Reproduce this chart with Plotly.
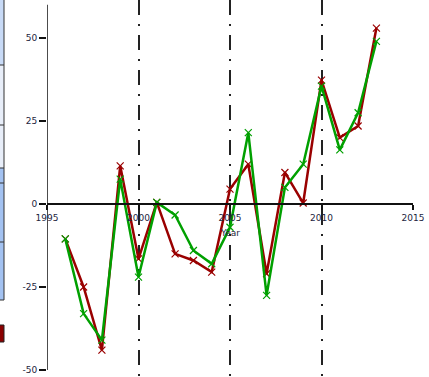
import plotly.graph_objects as go

# Yearly anomaly values for the two series
years = list(range(1996, 2014))
series_red = [-10.5, -25, -44, 11.5, -16.5, 0.5, -15, -17, -20.5, 4.5, 12, -21, 9.5, 0.3, 37.3, 20, 23.5, 53]
series_green = [-10.5, -33, -41, 7.5, -22, 0.5, -3.3, -14, -18, -7, 21.5, -27.5, 5, 12, 35.5, 16.3, 27.5, 49]

x_ticks = [1995, 2000, 2005, 2010, 2015]
x_ticktext = ["1995", "2000", "2005", "2010", "2015"]
y_ticks = [-50, -25, 0, 25, 50]
y_ticktext = ["-50", "-25", "0", "25", "50"]

W, H = 429, 377
ML, MR = 47, 16
X_RANGE = [1995, 2015]
Y_RANGE = [-52.1, 61.45]

FONT = "DejaVu Sans"
TXT = "#1d2540"
RED = "#9a0000"
GREEN = "#00a000"


def px_x(px):
    return (px - ML) / (W - ML - MR)


def px_y(py):
    return (H - py) / H


fig = go.Figure()

# y axis spine (from -50 to 60)
fig.add_trace(go.Scatter(
    x=[X_RANGE[0], X_RANGE[0]], y=[-50, 60], mode="lines",
    line=dict(color="#111111", width=1.5), cliponaxis=False,
    hoverinfo="skip", showlegend=False))

fig.add_trace(go.Scatter(
    x=years, y=series_red, mode="lines+markers", name="A",
    line=dict(color=RED, width=2.5),
    marker=dict(symbol="x-thin", size=7, line=dict(color=RED, width=1.2)),
    cliponaxis=False, showlegend=False))

fig.add_trace(go.Scatter(
    x=years, y=series_green, mode="lines+markers", name="B",
    line=dict(color=GREEN, width=2.5),
    marker=dict(symbol="x-thin", size=7, line=dict(color=GREEN, width=1.2)),
    cliponaxis=False, showlegend=False))

# partially visible side panel on the left edge
shapes = []
panel = [(0, 65, "#c8daf6"), (65, 168, "#e8eef9"), (168, 300, "#a3c2f1")]
for y0, y1, col in panel:
    shapes.append(dict(type="rect", xref="paper", yref="paper",
                       x0=px_x(-2), x1=px_x(4), y0=px_y(y1), y1=px_y(y0),
                       fillcolor=col, line=dict(width=0), layer="above"))
for py in [65, 125, 168, 183, 242]:
    shapes.append(dict(type="line", xref="paper", yref="paper",
                       x0=px_x(0), x1=px_x(4), y0=px_y(py), y1=px_y(py),
                       line=dict(color="#333333", width=1)))
shapes.append(dict(type="rect", xref="paper", yref="paper",
                   x0=px_x(-2), x1=px_x(4), y0=px_y(300), y1=px_y(-2),
                   fillcolor="rgba(0,0,0,0)", line=dict(color="#333333", width=1)))
shapes.append(dict(type="rect", xref="paper", yref="paper",
                   x0=px_x(-2), x1=px_x(4), y0=px_y(342), y1=px_y(325),
                   fillcolor="#8a0000", line=dict(color="#222222", width=1)))

x_axis_pos = (0 - Y_RANGE[0]) / (Y_RANGE[1] - Y_RANGE[0])

fig.update_layout(
    width=W, height=H,
    margin=dict(l=ML, r=MR, t=0, b=0),
    paper_bgcolor="white", plot_bgcolor="white",
    font=dict(family=FONT, size=9, color=TXT),
    shapes=shapes,
    xaxis=dict(
        range=X_RANGE, tickvals=x_ticks, ticktext=x_ticktext,
        anchor="free", position=x_axis_pos,
        showline=True, linecolor="#111111", linewidth=1.5,
        ticks="outside", ticklen=5, tickcolor="#111111", tickwidth=1.5,
        showgrid=True, gridcolor="#222222", gridwidth=1.5,
        griddash="15px,9px,2px,9px",
        zeroline=False, tickfont=dict(family=FONT, size=9, color=TXT),
    ),
    yaxis=dict(
        range=Y_RANGE, tickvals=y_ticks, ticktext=y_ticktext,
        showline=False, showgrid=False, zeroline=False,
        ticks="outside", ticklen=7, tickcolor="#111111", tickwidth=1.5,
        tickfont=dict(family=FONT, size=9, color=TXT),
    ),
    annotations=[dict(x=2005, y=0, xref="x", yref="y", text="Year",
                      showarrow=False, yshift=-29,
                      font=dict(family=FONT, size=9, color=TXT))],
)

fig.write_html("out.html")
